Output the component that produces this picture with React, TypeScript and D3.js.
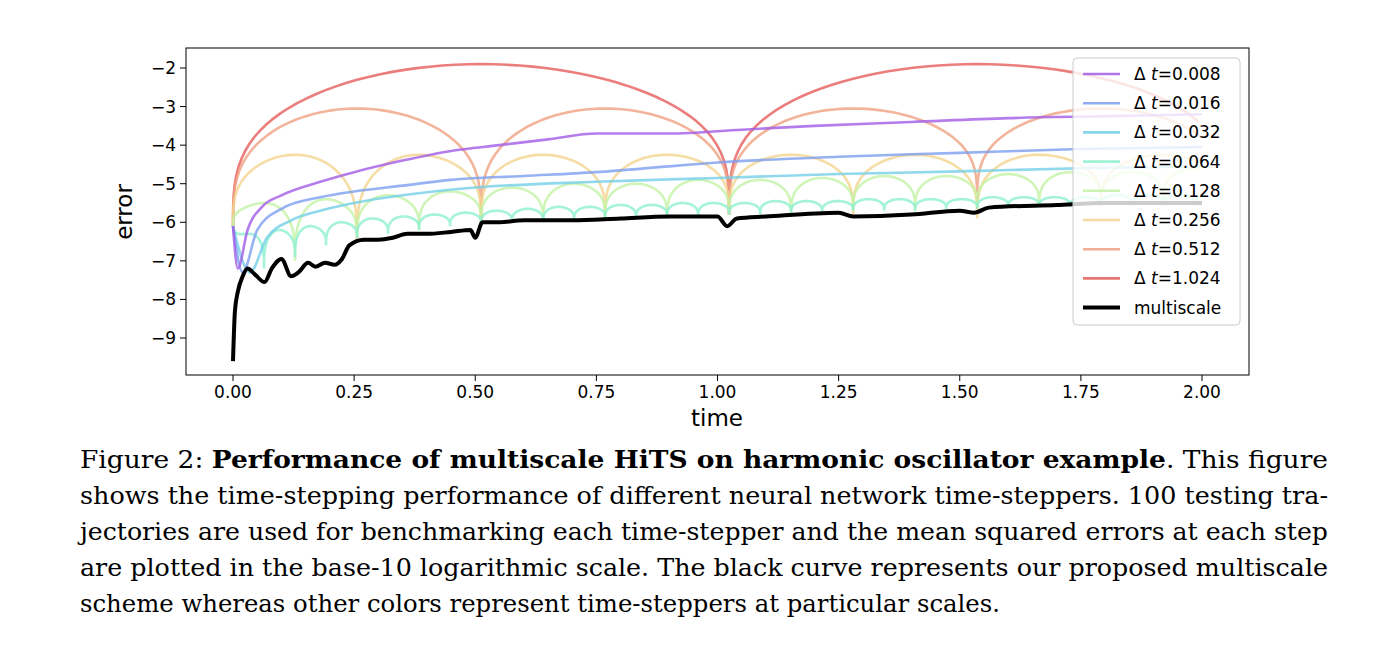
import React from "react";
import * as d3 from "d3";

const W = 1398, H = 664;
const xTicks = [0, 0.25, 0.5, 0.75, 1.0, 1.25, 1.5, 1.75, 2.0];
const yTicks = [-2, -3, -4, -5, -6, -7, -8, -9];
const labels = ["0.008", "0.016", "0.032", "0.064", "0.128", "0.256", "0.512", "1.024"];
const colors = ["#a35de6", "#7d9ff0", "#74cfe8", "#8ff0cf", "#c4f2a6", "#f3d48f", "#efa182", "#e65c5c"];

const s008: [number, number][] = [[0,-6.1],[0.01,-7.2],[0.03,-6.2],[0.06,-5.6],[0.1,-5.3],[0.18,-4.95],[0.25,-4.7],[0.35,-4.4],[0.45,-4.15],[0.55,-4.0],[0.65,-3.85],[0.75,-3.7],[0.9,-3.7],[1.05,-3.6],[1.2,-3.5],[1.4,-3.4],[1.6,-3.3],[1.8,-3.25],[2.0,-3.2]];
const s016: [number, number][] = [[0,-6.1],[0.02,-7.3],[0.05,-6.2],[0.1,-5.65],[0.18,-5.35],[0.25,-5.2],[0.35,-5.05],[0.45,-4.9],[0.6,-4.8],[0.75,-4.7],[0.9,-4.55],[1.0,-4.45],[1.25,-4.3],[1.5,-4.2],[1.75,-4.1],[2.0,-4.05]];
const s032: [number, number][] = [[0,-6.1],[0.035,-7.3],[0.07,-6.4],[0.12,-5.95],[0.18,-5.7],[0.25,-5.5],[0.35,-5.3],[0.5,-5.1],[0.75,-4.95],[1.0,-4.85],[1.25,-4.75],[1.5,-4.68],[1.75,-4.6],[2.0,-4.55]];
const sMulti: [number, number][] = [[0,-9.6],[0.004,-8.3],[0.01,-7.8],[0.02,-7.4],[0.03,-7.2],[0.045,-7.35],[0.065,-7.55],[0.08,-7.2],[0.1,-6.95],[0.12,-7.4],[0.135,-7.3],[0.155,-7.05],[0.17,-7.15],[0.19,-7.05],[0.21,-7.1],[0.225,-6.95],[0.24,-6.6],[0.27,-6.45],[0.3,-6.45],[0.33,-6.4],[0.36,-6.3],[0.4,-6.3],[0.45,-6.25],[0.49,-6.2],[0.5,-6.4],[0.515,-6.0],[0.55,-6.0],[0.6,-5.95],[0.7,-5.95],[0.8,-5.9],[0.9,-5.85],[1.0,-5.85],[1.02,-6.1],[1.04,-5.9],[1.1,-5.85],[1.25,-5.75],[1.28,-5.85],[1.4,-5.8],[1.5,-5.7],[1.53,-5.75],[1.56,-5.62],[1.7,-5.55],[1.8,-5.5],[2.0,-5.5]];

const p1024 = { period: 1.024, cusps: [-6.1, -5.8, -5.5], peaks: [-1.9, -1.9] };
const p512 = { period: 0.512, cusps: [-6.1, -6.0, -5.8, -5.5, -5.5], peaks: [-3.05, -3.05, -3.05, -3.05] };
const p256 = { period: 0.256, cusps: [-6.1, -6.5, -6.0, -5.9, -5.8, -5.8, -5.9, -5.6, -5.6], peaks: [-4.25, -4.25, -4.25, -4.25, -4.25, -4.25, -4.25, -4.25] };
const p128 = { period: 0.128, cusps: [-6.1, -7.0, -6.4, -6.2, -6.0, -6.0, -5.9, -5.9, -5.8, -5.8, -5.7, -5.7, -5.6, -5.6, -5.5, -5.5, -5.4], peaks: [-5.5, -5.4, -5.3, -5.2, -5.1, -5.0, -5.0, -4.9, -4.9, -4.85, -4.8, -4.8, -4.75, -4.7, -4.7, -4.6] };
const p064 = { period: 0.064, cusps: [-6.1, -7.2, -6.9, -6.6, -6.4, -6.3, -6.2, -6.1, -6.05, -6.0, -6.0, -5.95, -5.9, -5.9, -5.85, -5.85, -5.8, -5.8, -5.75, -5.75, -5.7, -5.7, -5.7, -5.65, -5.65, -5.6, -5.6, -5.6, -5.55, -5.55, -5.5, -5.5, -5.5], peaks: [-6.3, -6.2, -6.1, -6.0, -5.9, -5.85, -5.8, -5.75, -5.7, -5.65, -5.6, -5.6, -5.55, -5.55, -5.5, -5.5, -5.5, -5.45, -5.45, -5.45, -5.4, -5.4, -5.4, -5.4, -5.35, -5.35, -5.35, -5.35, -5.3, -5.3, -5.3, -5.3] };

function archPts(a: { period: number; cusps: number[]; peaks: number[] }): [number, number][] {
  const pts: [number, number][] = [];
  const n = 60;
  a.peaks.forEach((pk, k) => {
    for (let i = 0; i <= n; i++) {
      const u = i / n;
      const f = (1 - Math.cos(Math.PI * u)) / 2; // denser sampling near cusps
      const t = (k + f) * a.period;
      if (t > 2.0001) return;
      const base = a.cusps[k] + (a.cusps[k + 1] - a.cusps[k]) * f;
      const g = Math.pow(Math.sin(Math.PI * f), 0.3);
      pts.push([t, base + (pk - base) * g]);
    }
  });
  return pts;
}

export default function App() {
  const x = d3.scaleLinear().domain([0, 2]).range([233, 1202]);
  const y = d3.scaleLinear().domain([-2, -9]).range([68, 338]);
  const line = d3.line<[number, number]>().x(d => x(d[0])).y(d => y(d[1])).curve(d3.curveMonotoneX);
  const lineL = d3.line<[number, number]>().x(d => x(d[0])).y(d => y(d[1]));
  const series: { d: string; c: string }[] = [
    { d: line(s008)!, c: colors[0] },
    { d: line(s016)!, c: colors[1] },
    { d: line(s032)!, c: colors[2] },
    { d: lineL(archPts(p064))!, c: colors[3] },
    { d: lineL(archPts(p128))!, c: colors[4] },
    { d: lineL(archPts(p256))!, c: colors[5] },
    { d: lineL(archPts(p512))!, c: colors[6] },
    { d: lineL(archPts(p1024))!, c: colors[7] },
  ];
  const font = "DejaVu Sans, sans-serif";
  const serif = "DejaVu Serif, serif";
  const capLines = [
    "shows the time-stepping performance of different neural network time-steppers. 100 testing tra-",
    "jectories are used for benchmarking each time-stepper and the mean squared errors at each step",
    "are plotted in the base-10 logarithmic scale. The black curve represents our proposed multiscale",
  ];
  return (
    <svg width={W} height={H} style={{ position: "absolute", left: 0, top: 0, background: "#fff" }}>
      <rect width={W} height={H} fill="#fff" />
      <defs><clipPath id="pc"><rect x={186} y={48} width={1063} height={327} /></clipPath></defs>
      <g clipPath="url(#pc)" fill="none">
        {series.slice().reverse().map((s, i) => (
          <path key={i} d={s.d} stroke={s.c} strokeWidth={2.6} opacity={0.8} />
        ))}
        <path d={line(sMulti)!} stroke="#000" strokeWidth={4} />
      </g>
      <rect x={186} y={48} width={1063} height={327} fill="none" stroke="#000" strokeWidth={1} />
      {xTicks.map(t => (
        <g key={t}>
          <line x1={x(t)} x2={x(t)} y1={375} y2={381} stroke="#000" />
          <text x={x(t)} y={398} fontFamily={font} fontSize={17} textAnchor="middle">{t.toFixed(2)}</text>
        </g>
      ))}
      {yTicks.map(t => (
        <g key={t}>
          <line x1={180} x2={186} y1={y(t)} y2={y(t)} stroke="#000" />
          <text x={176} y={y(t) + 6} fontFamily={font} fontSize={17} textAnchor="end">{"\u2212" + Math.abs(t)}</text>
        </g>
      ))}
      <text x={717} y={426} fontFamily={font} fontSize={23} textAnchor="middle">time</text>
      <text transform="translate(132,212) rotate(-90)" fontFamily={font} fontSize={23} textAnchor="middle">error</text>
      <rect x={1073} y={58} width={167} height={267} rx={4} fill="#fff" fillOpacity={0.8} stroke="#ccc" />
      {[...labels, "multiscale"].map((l, i) => {
        const yy = 74 + i * 29.2;
        const c = i < 8 ? colors[i] : "#000";
        return (
          <g key={l}>
            <line x1={1083} x2={1120} y1={yy} y2={yy} stroke={c} strokeWidth={i < 8 ? 2.6 : 4} opacity={i < 8 ? 0.85 : 1} />
            <text x={1134} y={yy + 6} fontFamily={font} fontSize={17}>
              {i < 8 ? (<>{"\u0394 "}<tspan fontStyle="italic">t</tspan>{"=" + l}</>) : l}
            </text>
          </g>
        );
      })}
      <text x={80} y={468} fontFamily={serif} fontSize={24} textLength={1248} lengthAdjust="spacingAndGlyphs">
        Figure 2: <tspan fontWeight="bold">Performance of multiscale HiTS on harmonic oscillator example</tspan>. This figure
      </text>
      {capLines.map((c, i) => (
        <text key={i} x={80} y={504 + i * 36} fontFamily={serif} fontSize={24} textLength={1248} lengthAdjust="spacingAndGlyphs">{c}</text>
      ))}
      <text x={80} y={612} fontFamily={serif} fontSize={24} textLength={920} lengthAdjust="spacingAndGlyphs">scheme whereas other colors represent time-steppers at particular scales.</text>
    </svg>
  );
}
